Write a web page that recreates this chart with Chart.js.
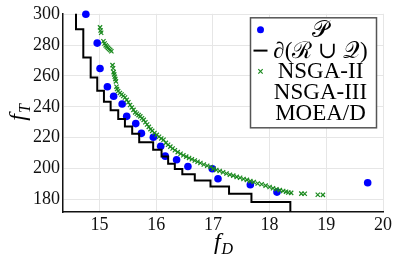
<!DOCTYPE html>
<html>
<head>
<meta charset="utf-8">
<script src="https://cdn.jsdelivr.net/npm/chart.js@4"></script>
<style>
  html, body { margin: 0; padding: 0; background: #fff; }
  #wrap { width: 399px; height: 260px; }
</style>
</head>
<body>
<div id="wrap"><canvas id="chart"></canvas></div>
<script>
// Pareto points (P)
const paretoX = [14.76, 14.96, 15.01, 15.14, 15.25, 15.40, 15.48, 15.64, 15.74, 15.95,
                 16.08, 16.16, 16.36, 16.56, 16.99, 17.09, 17.66, 18.13, 19.73];
const paretoY = [300.0, 281.3, 264.8, 253.0, 246.8, 241.8, 233.8, 229.1, 222.8, 220.3,
                 214.4, 208.0, 205.7, 201.3, 199.8, 193.4, 189.5, 184.7, 190.8];

// boundary of R u Q, drawn as a staircase
const stairX = [14.586, 14.586, 14.715, 14.845, 14.961, 15.079, 15.197, 15.331, 15.449, 15.577,
                15.701, 15.947, 16.095, 16.211, 16.329, 16.461, 16.681, 16.958, 17.285, 17.680, 18.366];
const stairY = [305.0, 290.3, 272.0, 259.0, 250.4, 243.3, 237.8, 232.1, 227.2, 222.5,
                217.0, 212.1, 207.8, 203.1, 199.7, 196.2, 192.3, 188.4, 183.7, 178.3, 165.0];

// NSGA-II population
const nsga2X = [15.01, 15.02, 15.03, 15.07, 15.09, 15.11, 15.13, 15.15, 15.17, 15.19, 15.21,
                15.23, 15.24, 15.25, 15.26, 15.27, 15.28, 15.29, 15.30, 15.31, 15.33, 15.36,
                15.39, 15.42, 15.45, 15.48, 15.51, 15.54, 15.57, 15.60, 15.63, 15.66, 15.69,
                15.72, 15.75, 15.78, 15.81, 15.84, 15.87, 15.90, 15.93, 15.97, 16.01, 16.05,
                16.09, 16.13, 16.17, 16.21, 16.25, 16.29, 16.33, 16.38, 16.43, 16.48, 16.53,
                16.58, 16.63, 16.68, 16.73, 16.78, 16.84, 16.90, 16.96, 17.01, 17.06, 17.12,
                17.18, 17.24, 17.30, 17.36, 17.42, 17.48, 17.54, 17.60, 17.66, 17.72, 17.79,
                17.86, 17.93, 18.00, 18.06, 18.12, 18.18, 18.24, 18.29, 18.33, 18.38, 18.56,
                18.62, 18.85, 18.94];
const nsga2Y = [291.5, 289.5, 288.0, 282.5, 281.0, 279.8, 279.0, 278.2, 277.5, 276.8, 276.0,
                267.0, 265.0, 262.5, 261.0, 259.5, 258.0, 256.5, 253.0, 251.5, 250.2, 249.0,
                248.0, 247.0, 246.0, 244.5, 243.0, 241.2, 239.6, 238.0, 236.4, 235.5, 234.6,
                233.8, 232.6, 231.5, 230.0, 228.5, 227.0, 225.5, 224.4, 223.0, 221.8, 220.6,
                219.5, 218.6, 216.6, 215.4, 214.2, 213.0, 211.8, 210.6, 209.6, 208.6, 207.7,
                206.8, 206.0, 205.2, 204.4, 203.6, 202.6, 201.8, 201.0, 199.9, 199.0, 198.4,
                197.6, 196.8, 196.0, 195.4, 194.6, 194.0, 193.2, 192.6, 191.8, 191.2, 190.3,
                189.8, 188.9, 188.0, 187.2, 186.6, 186.0, 185.4, 184.9, 184.4, 184.2, 183.7,
                183.6, 183.0, 182.9];

// no points shown for these two
const nsga3X = [];
const nsga3Y = [];
const moeadX = [];
const moeadY = [];

const xTicks = [15, 16, 17, 18, 19, 20];
const yTicks = [180, 200, 220, 240, 260, 280, 300];

const SERIF = '"Liberation Serif", "DejaVu Serif", serif';

const pts = (xs, ys) => xs.map((x, i) => ({ x: x, y: ys[i] }));

// legend drawn as a framed box like the original
const legendBox = {
  id: 'legendBox',
  afterDraw(chart) {
    const ctx = chart.ctx;
    const area = chart.chartArea;
    const w = 126, h = 110;
    const left = area.right - 6.5 - w;
    const top = area.top + 4;
    ctx.save();
    ctx.fillStyle = '#fff';
    ctx.fillRect(left, top, w, h);
    ctx.strokeStyle = '#555';
    ctx.lineWidth = 1.5;
    ctx.strokeRect(left, top, w, h);
    ctx.font = '23px ' + SERIF;
    ctx.textAlign = 'center';
    ctx.textBaseline = 'middle';
    ctx.fillStyle = '#000';
    chart.data.datasets.forEach((ds, i) => {
      const cy = top + 12 + i * 20.8;
      const mx = left + 10;
      if (ds.legendMark === 'dot') {
        ctx.beginPath();
        ctx.fillStyle = ds.backgroundColor;
        ctx.arc(mx, cy, 3.5, 0, Math.PI * 2);
        ctx.fill();
      } else if (ds.legendMark === 'line') {
        ctx.beginPath();
        ctx.strokeStyle = ds.borderColor;
        ctx.lineWidth = 2;
        ctx.moveTo(mx - 7, cy);
        ctx.lineTo(mx + 7, cy);
        ctx.stroke();
      } else if (ds.legendMark === 'cross') {
        ctx.beginPath();
        ctx.strokeStyle = ds.borderColor;
        ctx.lineWidth = 1.2;
        ctx.moveTo(mx - 2.2, cy - 2.2); ctx.lineTo(mx + 2.2, cy + 2.2);
        ctx.moveTo(mx - 2.2, cy + 2.2); ctx.lineTo(mx + 2.2, cy - 2.2);
        ctx.stroke();
      }
      ctx.fillStyle = '#000';
      ctx.fillText(ds.label, left + 70, cy + 1);
    });
    ctx.restore();
  }
};

function drawSubLabel(ctx, main, sub, x, y, rot) {
  ctx.save();
  ctx.translate(x, y);
  ctx.rotate(rot);
  ctx.fillStyle = '#000';
  ctx.textBaseline = 'alphabetic';
  ctx.textAlign = 'left';
  ctx.font = 'italic 24px ' + SERIF;
  const w1 = ctx.measureText(main).width;
  ctx.font = 'italic 16px ' + SERIF;
  const w2 = ctx.measureText(sub).width;
  const start = -(w1 + w2) / 2;
  ctx.font = 'italic 24px ' + SERIF;
  ctx.fillText(main, start, 5);
  ctx.font = 'italic 16px ' + SERIF;
  ctx.fillText(sub, start + w1 + 1, 10);
  ctx.restore();
}

const axisTitles = {
  id: 'axisTitles',
  afterDraw(chart) {
    const area = chart.chartArea;
    drawSubLabel(chart.ctx, 'f', 'D', (area.left + area.right) / 2, 244, 0);
    drawSubLabel(chart.ctx, 'f', 'T', 20, (area.top + area.bottom) / 2, -Math.PI / 2);
  }
};

new Chart(document.getElementById('chart'), {
  type: 'scatter',
  data: {
    datasets: [
      {
        label: '𝒫',
        legendMark: 'dot',
        data: pts(paretoX, paretoY),
        backgroundColor: '#0000ff',
        borderColor: '#0000ff',
        pointRadius: 3.8,
        pointHoverRadius: 3.8,
        borderWidth: 0,
        clip: false,
        order: 3
      },
      {
        label: '∂(ℛ ∪ 𝒬)',
        legendMark: 'line',
        data: pts(stairX, stairY),
        showLine: true,
        stepped: true,
        borderColor: '#000',
        backgroundColor: '#000',
        borderWidth: 2,
        pointRadius: 0,
        pointHoverRadius: 0,
        order: 2
      },
      {
        label: 'NSGA-II',
        legendMark: 'cross',
        data: pts(nsga2X, nsga2Y),
        pointStyle: 'crossRot',
        pointRadius: 3,
        pointHoverRadius: 3,
        borderColor: '#1b8a1f',
        backgroundColor: '#1b8a1f',
        borderWidth: 1.2,
        clip: false,
        order: 1
      },
      {
        label: 'NSGA-III',
        legendMark: 'none',
        data: pts(nsga3X, nsga3Y),
        borderColor: '#e07b00',
        backgroundColor: '#e07b00'
      },
      {
        label: 'MOEA/D',
        legendMark: 'none',
        data: pts(moeadX, moeadY),
        borderColor: '#9b30d0',
        backgroundColor: '#9b30d0'
      }
    ]
  },
  options: {
    responsive: true,
    maintainAspectRatio: false,
    animation: false,
    layout: { padding: { left: 0, right: 16, top: 13, bottom: 0 } },
    plugins: {
      legend: { display: false },
      tooltip: { enabled: false }
    },
    scales: {
      x: {
        type: 'linear',
        min: 14.357,
        max: 20,
        afterFit: (s) => { s.height = 48; },
        afterBuildTicks: (s) => { s.ticks = xTicks.map(v => ({ value: v })); },
        ticks: {
          includeBounds: false,
          padding: 2,
          color: '#111',
          font: { family: SERIF, size: 18 },
          callback: (v) => v
        },
        grid: { color: '#e6e6e6', lineWidth: 1, drawTicks: false },
        border: { display: true, color: '#111', width: 1.5 }
      },
      y: {
        type: 'linear',
        min: 171.8,
        max: 300.3,
        afterFit: (s) => { s.width = 63; },
        afterBuildTicks: (s) => { s.ticks = yTicks.map(v => ({ value: v })); },
        ticks: {
          includeBounds: false,
          padding: 3,
          color: '#111',
          font: { family: SERIF, size: 18 },
          callback: (v) => v
        },
        grid: { color: '#e6e6e6', lineWidth: 1, drawTicks: false },
        border: { display: true, color: '#111', width: 1.5 }
      }
    }
  },
  plugins: [legendBox, axisTitles]
});
</script>
</body>
</html>
